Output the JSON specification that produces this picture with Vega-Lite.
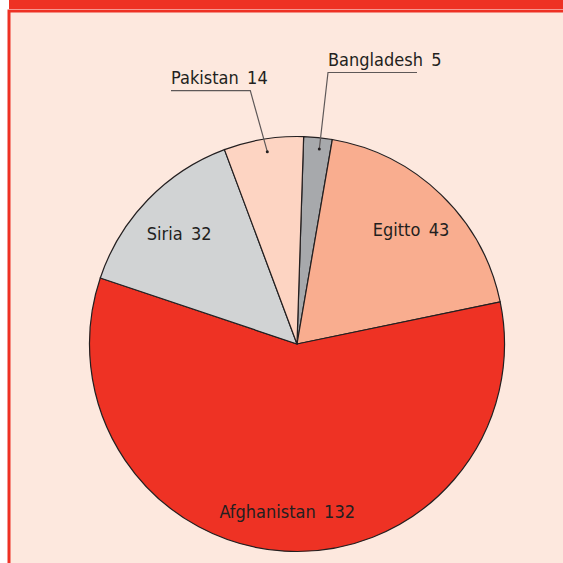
{
  "$schema": "https://vega.github.io/schema/vega-lite/v6.json",
  "background": "white",
  "padding": {"left": 7, "top": 0, "right": 0, "bottom": 0},
  "autosize": {"type": "pad"},
  "spacing": 0,
  "config": {"view": {"stroke": null}, "concat": {"spacing": 0}},
  "datasets": {
    "countries": [
      {"n": "Bangladesh", "v": 5, "o": 1, "lab": "Bangladesh\u00a0\u20095"},
      {"n": "Egitto", "v": 43, "o": 2, "lab": "Egitto\u00a0\u200943"},
      {"n": "Afghanistan", "v": 132, "o": 3, "lab": "Afghanistan\u00a0\u2009132"},
      {"n": "Siria", "v": 32, "o": 4, "lab": "Siria\u00a0\u200932"},
      {"n": "Pakistan", "v": 14, "o": 5, "lab": "Pakistan\u00a0\u200914"}
    ],
    "leaders": [
      {"g": "Bangladesh", "s": 1, "dx": 120, "dy": 271.5},
      {"g": "Bangladesh", "s": 2, "dx": 31, "dy": 271.5, "lab": "Bangladesh\u00a0\u20095"},
      {"g": "Bangladesh", "s": 3, "dx": 22.3, "dy": 195},
      {"g": "Pakistan", "s": 1, "dx": -126, "dy": 253.3, "lab": "Pakistan\u00a0\u200914"},
      {"g": "Pakistan", "s": 2, "dx": -46.7, "dy": 253.3},
      {"g": "Pakistan", "s": 3, "dx": -29.7, "dy": 192.3}
    ]
  },
  "vconcat": [
    {
      "width": 576,
      "height": 9,
      "data": {"values": [{"t": "header"}]},
      "mark": {"type": "rect", "color": "#ee3124"},
      "encoding": {}
    },
    {
      "width": 576,
      "height": 666,
      "view": {"fill": "#fde8de", "stroke": "#ee3124", "strokeWidth": 3},
      "layer": [
        {
          "data": {"name": "countries"},
          "mark": {"type": "arc", "outerRadius": 207.5, "stroke": "#231f20", "strokeWidth": 1.2},
          "encoding": {
            "theta": {"field": "v", "type": "quantitative", "stack": true, "scale": {"range": [0.032, 6.3152]}},
            "order": {"field": "o", "type": "quantitative"},
            "color": {
              "field": "n",
              "type": "nominal",
              "scale": {
                "domain": ["Bangladesh", "Egitto", "Afghanistan", "Siria", "Pakistan"],
                "range": ["#a7a9ac", "#f9ad8f", "#ee3224", "#d1d3d4", "#fdd4c2"]
              },
              "legend": null
            }
          }
        },
        {
          "data": {"name": "countries"},
          "mark": {
            "type": "text",
            "font": "DejaVu Sans Condensed, sans-serif",
            "fontSize": 18,
            "fill": "#231f20",
            "baseline": "middle",
            "align": "center",
            "dy": 5
          },
          "encoding": {
            "theta": {"field": "v", "type": "quantitative", "stack": true},
            "order": {"field": "o", "type": "quantitative"},
            "radius": {"value": 164},
            "text": {"field": "lab"},
            "opacity": {"condition": {"test": "datum.v > 20", "value": 1}, "value": 0}
          }
        },
        {
          "data": {"name": "leaders"},
          "mark": {"type": "line", "stroke": "#5e5858", "strokeWidth": 1.2},
          "encoding": {
            "x": {"field": "dx", "type": "quantitative", "scale": {"domain": [-288, 288], "nice": false, "zero": false}, "axis": null},
            "y": {"field": "dy", "type": "quantitative", "scale": {"domain": [-333, 333], "nice": false, "zero": false}, "axis": null},
            "detail": {"field": "g"},
            "order": {"field": "s", "type": "quantitative"}
          }
        },
        {
          "data": {"name": "leaders"},
          "transform": [{"filter": "datum.s === 3"}],
          "mark": {"type": "point", "filled": true, "size": 9, "color": "#231f20", "opacity": 1},
          "encoding": {
            "x": {"field": "dx", "type": "quantitative"},
            "y": {"field": "dy", "type": "quantitative"}
          }
        },
        {
          "data": {"name": "leaders"},
          "transform": [{"filter": "isValid(datum.lab)"}],
          "mark": {
            "type": "text",
            "font": "DejaVu Sans Condensed, sans-serif",
            "fontSize": 18,
            "fill": "#231f20",
            "align": "left",
            "baseline": "alphabetic",
            "dy": -7
          },
          "encoding": {
            "x": {"field": "dx", "type": "quantitative"},
            "y": {"field": "dy", "type": "quantitative"},
            "text": {"field": "lab"}
          }
        }
      ]
    }
  ]
}
